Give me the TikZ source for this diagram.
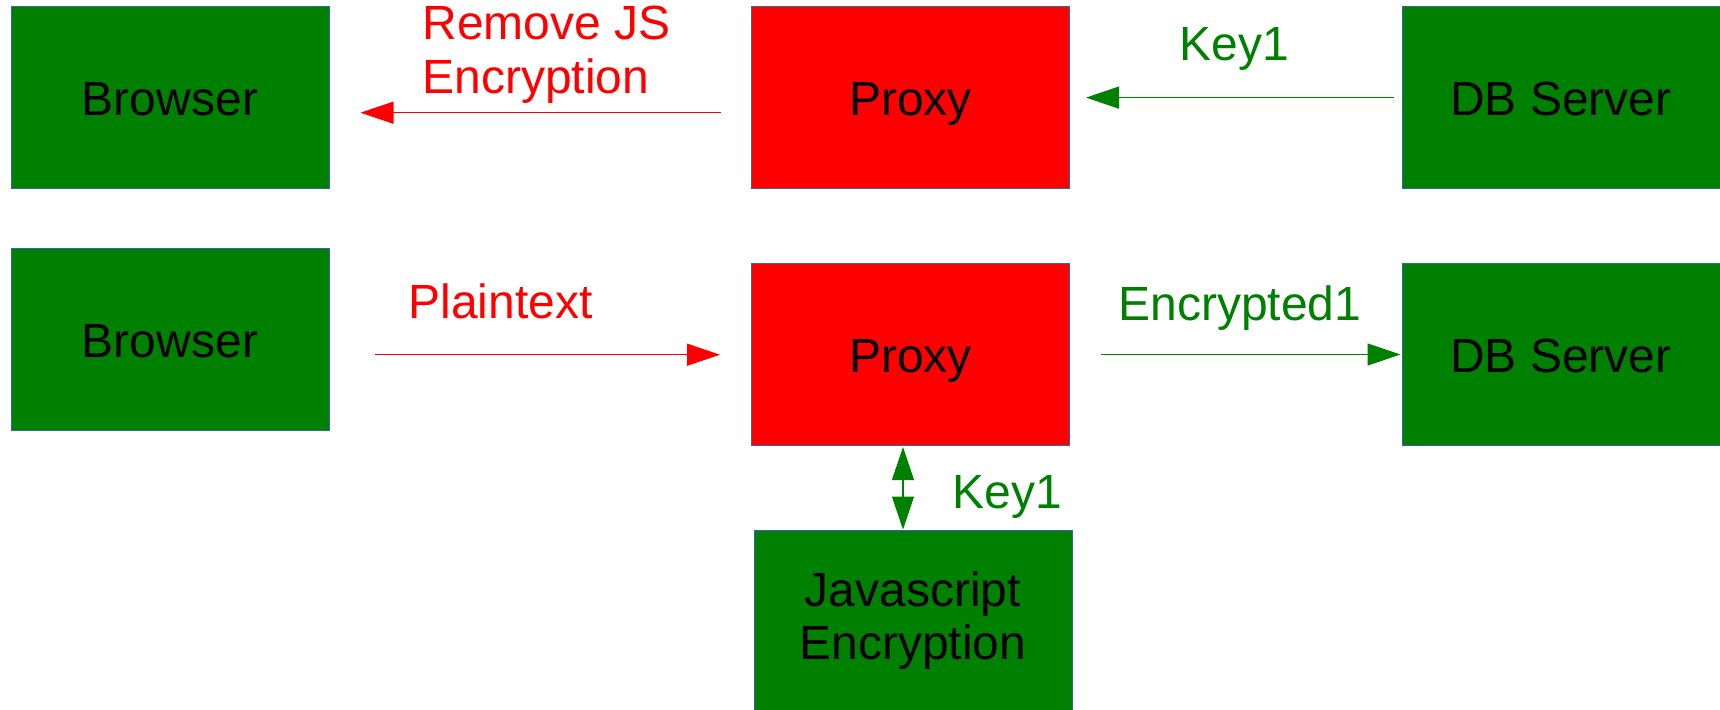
\documentclass[tikz,border=0pt]{standalone}
\usepackage{fontspec}
\setmainfont{Liberation Sans}
\usetikzlibrary{arrows.meta,calc}
\definecolor{boxgreen}{HTML}{008000}
\definecolor{boxred}{HTML}{FF0000}
\definecolor{boxedge}{HTML}{3465A4}
\begin{document}
\begin{tikzpicture}[x=0.5pt,y=-0.5pt,
  box/.style={draw=boxedge, line width=0.5pt, minimum width=159pt, minimum height=91pt,
    inner sep=0pt, font=\fontsize{24}{26.5}\selectfont, align=center, text=black},
  oneline/.style={text height=21.6pt, text depth=3.2pt},
  greenbox/.style={box, fill=boxgreen},
  redbox/.style={box, fill=boxred},
  lbl/.style={font=\fontsize{24}{27}\selectfont, inner sep=0pt, anchor=base west, align=left},
  link/.style={line width=0.6pt, -{Triangle[length=16.5pt,width=11pt]}},
]
\useasboundingbox (0,0) rectangle (1720,709);

% boxes
\node[greenbox, oneline] (b1) at (170,97) {Browser};
\node[redbox, oneline]   (p1) at (910.5,97) {Proxy};
\node[greenbox, oneline] (d1) at (1561,97) {DB Server};
\node[greenbox, oneline] (b2) at (170,339.5) {Browser};
\node[redbox, oneline]   (p2) at (910.5,354.5) {Proxy};
\node[greenbox, oneline] (d2) at (1561,354.5) {DB Server};
\node[greenbox] (js) at (913,621) {Javascript\\Encryption};

% connectors
\draw[link, boxred] ($(p1.west)+(-30,15.7)$) -- ($(b1.east)+(31,15.7)$);
\draw[link, boxgreen] ($(d1.west)+(-8,0.6)$) -- ($(p1.east)+(16,0.6)$);
\draw[link, boxred] ($(b2.east)+(45,15.2)$) -- ($(p2.west)+(-31,0.2)$);
\draw[link, boxgreen] ($(p2.east)+(31,0)$) -- ($(d2.west)+(-1,0)$);
\draw[line width=0.6pt, boxgreen, {Triangle[length=16.5pt,width=11pt]}-{Triangle[length=16.5pt,width=11pt]}]
  ($(p2.south)+(-7.5,1)$) -- ($(js.north)+(-10,0)$);

% labels
\node[lbl, text=boxred]   (lremove) at (422,93) {Remove JS\\Encryption};
\node[lbl, text=boxred]   (lplain)  at (408,318) {Plaintext};
\node[lbl, text=boxgreen] (lkeya)   at (1179.5,60) {Key1};
\node[lbl, text=boxgreen] (lenc)    at (1118,320) {Encrypted1};
\node[lbl, text=boxgreen] (lkeyb)   at (952.5,508) {Key1};
\end{tikzpicture}
\end{document}
